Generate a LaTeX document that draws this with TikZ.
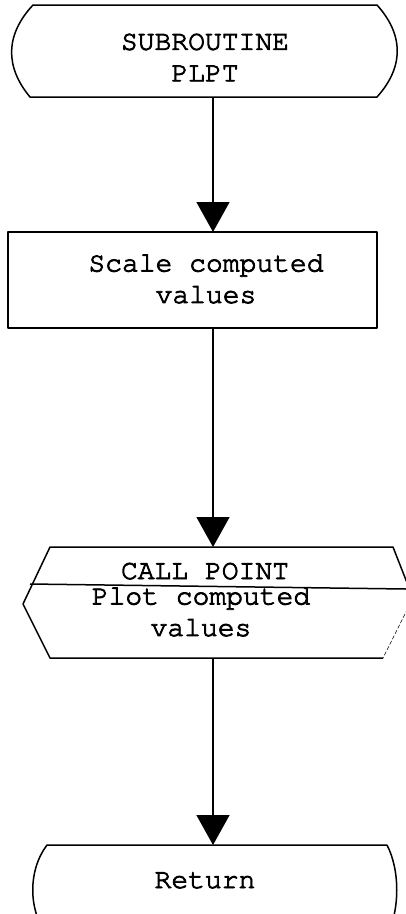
\documentclass[tikz,border=0pt]{standalone}
\usepackage{fontspec}
\setmonofont{texgyrecursor}[Extension=.otf, UprightFont=*-regular]
\usetikzlibrary{arrows.meta}
\begin{document}
\begin{tikzpicture}[x=1pt,y=-1pt,
  outline/.style={line width=1.5pt, line join=round},
  faint/.style={line width=0.6pt, dash pattern=on 4pt off 2pt},
  flow/.style={line width=1.4pt, -{Triangle[width=33pt,length=30pt]}},
  lbl/.style={font=\ttfamily\addfontfeature{FakeBold=3}\fontsize{28}{31.5}\selectfont, align=center, inner sep=0pt}]
\useasboundingbox (0,0) rectangle (406,914);
\clip (0,0) rectangle (406,914);

% entry terminal
\draw[outline] (33,5) -- (377,5)
  .. controls (404,35) and (404,67) .. (377,97) -- (30,97)
  .. controls (5,67) and (5,35) .. (33,5) -- cycle;
\node[lbl] (entry) at (205,57.5) {SUBROUTINE\\PLPT};

% process box
\draw[outline] (8,232) rectangle (377,328);
\node[lbl] (scale) at (206,279) {Scale computed\\values};

% call point (hexagon with divider)
\draw[outline] (383,658) -- (50,658) -- (23,604) -- (50,547) -- (393,547) -- (413,598);
\draw[faint] (413,598) -- (383,658);
\draw[outline] (30,584) -- (406,589);
\node[lbl, anchor=base] (callpt) at (205,579) {CALL POINT};
\node[lbl] (plot) at (201,612) {Plot computed\\values};

% exit terminal
\draw[outline] (387,845) -- (47,845)
  .. controls (28,870) and (28,910) .. (47,935);
\draw[outline] (387,845) .. controls (400,870) and (400,910) .. (387,935);
\node[lbl, anchor=base] (ret) at (205,888) {Return};

% connectors
\coordinate (entryB) at (213,97);
\coordinate (scaleT) at (213,232);
\coordinate (scaleB) at (213,328);
\coordinate (callT) at (213,547);
\coordinate (callB) at (213,658);
\coordinate (retT) at (213,845);
\draw[flow] (entryB) -- (scaleT);
\draw[flow] (scaleB) -- (callT);
\draw[flow] (callB) -- (retT);
\end{tikzpicture}
\end{document}
